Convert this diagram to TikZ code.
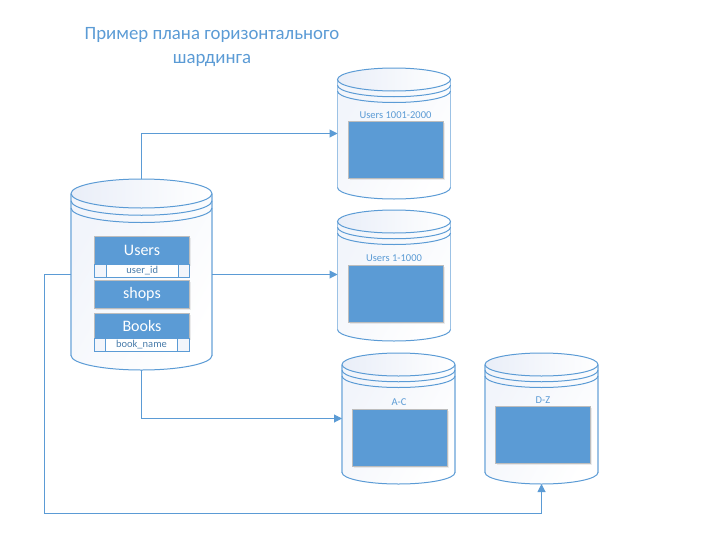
\documentclass[tikz,border=0pt]{standalone}
\usepackage{fontspec}
\setmainfont{Carlito}
\usetikzlibrary{arrows.meta,shadows}
\definecolor{msblue}{HTML}{5B9BD5}
\definecolor{mspale}{HTML}{9CC2E5}
\definecolor{msgray}{HTML}{BDBDBD}
\definecolor{mstint}{HTML}{E9EEF8}
\tikzset{
  dbnode/.style={inner sep=0pt, outer sep=0pt},
  datablock/.style={draw=msgray, line width=0.8pt, fill=msblue, inner sep=0pt, text=white,
    drop shadow={opacity=.15, shadow xshift=1pt, shadow yshift=-1.5pt}},
  keycell/.style={draw=msblue, line width=0.9pt, fill=white, inner sep=0pt, minimum height=13.5pt, text=msblue!80!black, font=\fontsize{10.5}{11}\selectfont},
  sidecell/.style={keycell, fill=mstint!60},
  shardlabel/.style={text=msblue, inner sep=0pt, font=\fontsize{10.5}{11}\selectfont},
  link/.style={draw=msblue, line width=1pt, -{Triangle[length=8pt,width=8pt]}}
}
\begin{document}
\begin{tikzpicture}[x=1pt, y=-1pt]
  \useasboundingbox (0,0) rectangle (703,546);
  % title
  \node[text=msblue, font=\fontsize{18.8}{24}\selectfont, align=center] (title) at (212,47.5) {Пример плана горизонтального\\шардинга};
  % cylinders
  \foreach \dbname/\dbx/\dby/\dbw/\dbh/\dbry in {
    core/71/179/141/191/14.5,
    upper/337.5/68/113/131/11.5,
    lower/337.5/210/113/131/11.5,
    atoc/342/353/113/131/11.5,
    dtoz/485/353/113/131/11.5
  } {
    \pgfmathsetmacro{\dbrx}{\dbw/2}
    \pgfmathsetmacro{\dbstep}{\dbry/2}
    \pgfmathsetmacro{\dbbody}{\dbh-2*\dbry}
    \node[dbnode, minimum width=\dbw pt, minimum height=\dbh pt] (\dbname) at (\dbx+\dbrx,\dby+\dbh/2) {};
    \begin{scope}[shift={(\dbx,\dby+\dbry)}]
      \shade[left color=mstint!60, right color=white, shading angle=60]
        (0,0) -- (0,\dbbody) arc[start angle=180, end angle=360, x radius=\dbrx pt, y radius=\dbry pt] -- (\dbw,0) -- cycle;
      \shade[left color=mstint, right color=white]
        (\dbrx,0) ellipse[x radius=\dbrx pt, y radius=\dbry pt];
      \draw[mspale, line width=1.1pt] (0,0) -- (0,\dbbody) (\dbw,0) -- (\dbw,\dbbody);
      \draw[msblue, line width=1pt] (\dbrx,0) ellipse[x radius=\dbrx pt, y radius=\dbry pt];
      \draw[msblue, line width=1pt] (0,\dbbody) arc[start angle=180, end angle=360, x radius=\dbrx pt, y radius=\dbry pt];
      \foreach \ringno in {1,2}
        \draw[msblue, line width=1pt] (0,\ringno*\dbstep) arc[start angle=180, end angle=360, x radius=\dbrx pt, y radius=\dbry pt];
    \end{scope}
  }
  % tables of the source database
  \node[datablock, minimum width=95pt, minimum height=27.5pt, font=\fontsize{16}{17}\selectfont] (users) at (142,250.25) {Users};
  \node[sidecell, minimum width=12pt] (usersl) at (100.5,270.75) {};
  \node[keycell, minimum width=72pt] (userid) at (142.25,270.75) {user\_id};
  \node[sidecell, minimum width=11.5pt] (usersr) at (183.75,270.75) {};
  \node[datablock, minimum width=95pt, minimum height=27.5pt, font=\fontsize{16}{17}\selectfont] (shops) at (142,294.25) {shops};
  \node[datablock, minimum width=95pt, minimum height=24.5pt, font=\fontsize{16}{17}\selectfont] (books) at (142,325.75) {Books};
  \node[sidecell, minimum width=11pt] (booksl) at (100,344.75) {};
  \node[keycell, minimum width=72pt] (bookname) at (141.5,344.75) {book\_name};
  \node[sidecell, minimum width=12.5pt] (booksr) at (183.25,344.75) {};
  % shards
  \foreach \boxname/\boxx/\boxy/\labname/\labx/\laby/\labtext in {
    upperbox/396/149.5/upperlab/395.5/115/Users 1001-2000,
    lowerbox/396/293.5/lowerlab/394/258.5/Users 1-1000,
    atocbox/400/437.5/atoclab/399/402/A-C,
    dtozbox/543/435/dtozlab/543/400/D-Z
  } {
    \node[datablock, minimum width=95pt, minimum height=57pt] (\boxname) at (\boxx,\boxy) {};
    \node[shardlabel] (\labname) at (\labx,\laby) {\labtext};
  }
  % links
  \coordinate (detour) at (44,513);
  \draw[link] (core.north) |- (upper.west);
  \draw[link] (core.east) -- (core.east -| lower.west);
  \draw[link] (core.south) |- (atoc.west);
  \draw[link] (core.west) -| (detour) -| (dtoz.south);
\end{tikzpicture}
\end{document}
